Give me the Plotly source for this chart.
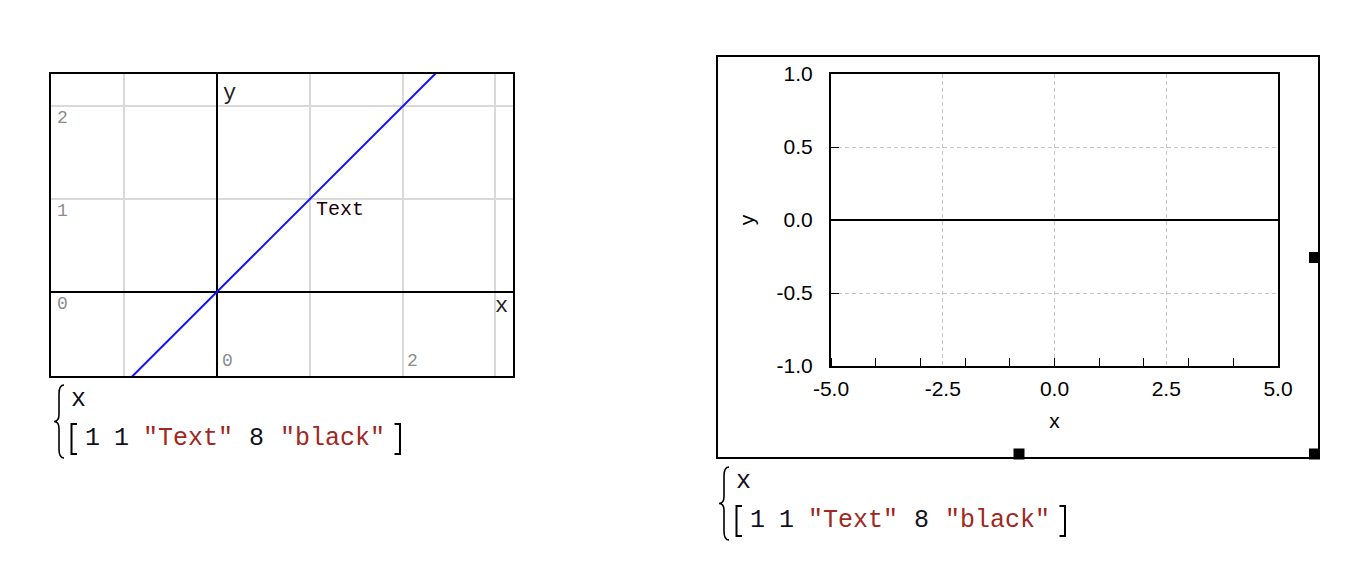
import plotly.graph_objects as go

# page body has an 8px margin; the figure fills the rest of the 1350x578 window
OFF = 8
W, H = 1350 - OFF, 578 - OFF

# ---------------- data ----------------
# left plot: y = x line, label at (1, 1)
line_x = [-2.0, 4.0]
line_y = [-2.0, 4.0]
label_x = [1]
label_y = [1]
label_txt = ["Text"]
left_xtick_vals = [0, 2]
left_ytick_vals = [0, 1, 2]

# right plot: flat line y = 0
right_x = [-5.0, 5.0]
right_y = [0.0, 0.0]
right_xtick_vals = [-5.0, -2.5, 0.0, 2.5, 5.0]
right_xtick_text = ["-5.0", "-2.5", "0.0", "2.5", "5.0"]
right_ytick_vals = [-1.0, -0.5, 0.0, 0.5, 1.0]
right_ytick_text = ["-1.0", "-0.5", "0.0", "0.5", "1.0"]

# expression text below each plot
expr_var = "x"
expr_tokens = ["1", "1", '"Text"', "8", '"black"']
expr_is_string = [False, False, True, False, True]


def px(x):
    return (x - OFF) / W


def py(y):
    return 1 - (y - OFF) / H


MONO = "Courier New, Liberation Mono, monospace"
SANS = "Arial, Liberation Sans, sans-serif"

fig = go.Figure()

fig.add_trace(go.Scatter(x=line_x, y=line_y, mode="lines",
                         line=dict(color="#1010ff", width=2),
                         xaxis="x", yaxis="y", showlegend=False, hoverinfo="skip"))
fig.add_trace(go.Scatter(x=right_x, y=right_y, mode="lines",
                         line=dict(color="black", width=2),
                         xaxis="x2", yaxis="y2", showlegend=False, hoverinfo="skip"))

annotations = []
# left label text
for lx, ly, lt in zip(label_x, label_y, label_txt):
    annotations.append(dict(x=lx, y=ly, xref="x", yref="y", text=lt, showarrow=False,
                            xanchor="left", yanchor="middle", xshift=4, yshift=-10,
                            font=dict(family=MONO, size=20, color="#200010")))
# left tick labels (inside plot)
for v in left_ytick_vals:
    annotations.append(dict(x=px(62), y=v, xref="paper", yref="y", text=str(v),
                            showarrow=False, xanchor="center", yanchor="middle",
                            yshift=-12, font=dict(family=MONO, size=18, color="#8c8c8c")))
for v in left_xtick_vals:
    annotations.append(dict(x=v, y=py(361), xref="x", yref="paper", text=str(v),
                            showarrow=False, xanchor="center", yanchor="middle",
                            xshift=10, font=dict(family=MONO, size=18, color="#8c8c8c")))
# left axis names
annotations.append(dict(x=px(229), y=py(93), xref="paper", yref="paper", text="y",
                        showarrow=False, xanchor="center", yanchor="middle",
                        font=dict(family=MONO, size=22, color="#222")))
annotations.append(dict(x=px(501), y=py(306), xref="paper", yref="paper", text="x",
                        showarrow=False, xanchor="center", yanchor="middle",
                        font=dict(family=MONO, size=22, color="#222")))

# expression blocks
token_cx = [92.5, 121, 188.3, 256.7, 332.8]
shapes = []


def brace_path(xr, xm, xt, T, B):
    M = (T + B) / 2
    pts = [
        ("M", [(xr, T)]),
        ("Q", [(xm, T), (xm, T + 9)]),
        ("L", [(xm, M - 7)]),
        ("Q", [(xm, M), (xt, M)]),
        ("Q", [(xm, M), (xm, M + 7)]),
        ("L", [(xm, B - 9)]),
        ("Q", [(xm, B), (xr, B)]),
    ]
    s = ""
    for cmd, ps in pts:
        s += cmd + " " + " ".join(f"{px(a):.5f},{py(b):.5f}" for a, b in ps) + " "
    return s.strip()


def bracket_path(xv, xs, T, B):
    return f"M {px(xs):.5f},{py(T):.5f} L {px(xv):.5f},{py(T):.5f} L {px(xv):.5f},{py(B):.5f} L {px(xs):.5f},{py(B):.5f}"


for dx, dy in [(0, 0), (665, 82)]:
    shapes.append(dict(type="path", xref="paper", yref="paper",
                       path=brace_path(64 + dx, 59 + dx, 54 + dx, 385 + dy, 458 + dy),
                       line=dict(color="black", width=1.6)))
    shapes.append(dict(type="path", xref="paper", yref="paper",
                       path=bracket_path(71.5 + dx, 77 + dx, 424 + dy, 454 + dy),
                       line=dict(color="black", width=2)))
    shapes.append(dict(type="path", xref="paper", yref="paper",
                       path=bracket_path(400 + dx, 394.5 + dx, 424 + dy, 454 + dy),
                       line=dict(color="black", width=2)))
    annotations.append(dict(x=px(78.5 + dx), y=py(399 + dy), xref="paper", yref="paper",
                            text=expr_var, showarrow=False, xanchor="center", yanchor="middle",
                            font=dict(family=MONO, size=25, color="#101020")))
    for cx, tok, isstr in zip(token_cx, expr_tokens, expr_is_string):
        annotations.append(dict(x=px(cx + dx), y=py(438 + dy), xref="paper", yref="paper",
                                text=tok, showarrow=False, xanchor="center", yanchor="middle",
                                font=dict(family=MONO, size=25,
                                          color="#a0281e" if isstr else "#101020")))

# right plot outer frame and handles
shapes.append(dict(type="rect", xref="paper", yref="paper",
                   x0=px(717), x1=px(1319), y0=py(458), y1=py(56),
                   line=dict(color="black", width=2), fillcolor="rgba(0,0,0,0)"))
for hx, hy in [(1314.5, 257.5), (1019, 454), (1314.5, 454)]:
    shapes.append(dict(type="rect", xref="paper", yref="paper",
                       x0=px(hx - 5.5), x1=px(hx + 5.5), y0=py(hy + 5.5), y1=py(hy - 5.5),
                       line=dict(width=0), fillcolor="black"))

fig.update_layout(
    width=W, height=H,
    margin=dict(l=0, r=0, t=0, b=0, autoexpand=False),
    paper_bgcolor="white", plot_bgcolor="white",
    showlegend=False,
    xaxis=dict(domain=[px(51), px(513)], range=[-1.79, 3.19], anchor="y",
               dtick=1, tick0=0, showgrid=True, gridcolor="#d9d9d9", gridwidth=2,
               zeroline=True, zerolinecolor="black", zerolinewidth=2,
               showline=True, mirror=True, linecolor="black", linewidth=2,
               showticklabels=False, ticks="", fixedrange=True, automargin=False),
    yaxis=dict(domain=[py(376), py(74)], range=[-0.91, 2.35], anchor="x",
               dtick=1, tick0=0, showgrid=True, gridcolor="#d9d9d9", gridwidth=2,
               zeroline=True, zerolinecolor="black", zerolinewidth=2,
               showline=True, mirror=True, linecolor="black", linewidth=2,
               showticklabels=False, ticks="", fixedrange=True, automargin=False),
    xaxis2=dict(domain=[px(831), px(1278)], range=[-5, 5], anchor="y2",
                tickmode="array", tickvals=right_xtick_vals, ticktext=right_xtick_text,
                tickfont=dict(family=SANS, size=21, color="black"),
                showgrid=True, gridcolor="#c8c8c8", griddash="4px,3px", gridwidth=1,
                zeroline=False, showline=True, mirror=True, linecolor="black", linewidth=2,
                ticks="", ticklabelstandoff=3,
                minor=dict(tickmode="linear", tick0=0, dtick=1, ticks="inside", ticklen=8,
                           tickcolor="black", tickwidth=1, showgrid=False),
                title=dict(text="x", font=dict(family=SANS, size=21, color="black"), standoff=14),
                fixedrange=True, automargin=False),
    yaxis2=dict(domain=[py(366), py(74)], range=[-1, 1], anchor="x2",
                tickmode="array", tickvals=right_ytick_vals, ticktext=right_ytick_text,
                tickfont=dict(family=SANS, size=21, color="black"),
                showgrid=True, gridcolor="#c8c8c8", griddash="4px,3px", gridwidth=1,
                zeroline=False, showline=True, mirror=True, linecolor="black", linewidth=2,
                ticks="inside", ticklen=8, tickcolor="black", ticklabelstandoff=12,
                title=dict(text="y", font=dict(family=SANS, size=21, color="black"), standoff=16),
                fixedrange=True, automargin=False),
    annotations=annotations,
    shapes=shapes,
)

fig.write_html("out.html")
